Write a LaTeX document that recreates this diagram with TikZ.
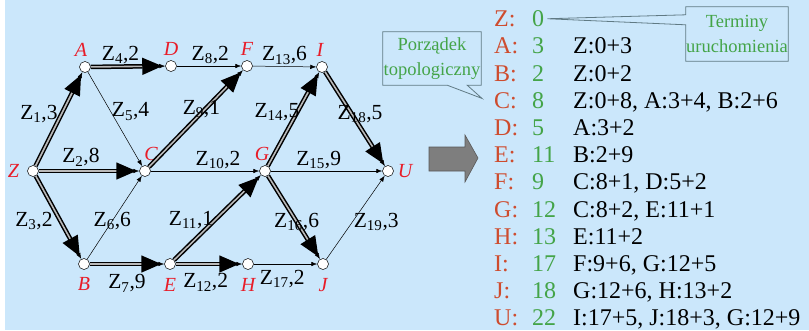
\documentclass[tikz,border=0pt]{standalone}
\usepackage{fontspec}
\setmainfont{Liberation Serif}
\usetikzlibrary{positioning,arrows.meta,backgrounds}

\definecolor{bgblue}{RGB}{203,231,251}
\definecolor{labred}{RGB}{232,28,40}
\definecolor{keyred}{RGB}{206,76,46}
\definecolor{keygreen}{RGB}{68,164,72}
\definecolor{calloutline}{RGB}{96,122,132}
\definecolor{arrowgray}{RGB}{126,126,126}

\newcommand{\zlab}[2]{Z\textsubscript{#1},#2}

\begin{document}
\begin{tikzpicture}[
  x=1pt, y=-1pt,
  vtx/.style={circle, draw, fill=white, inner sep=0pt, minimum size=11pt, line width=0.5pt},
  vlab/.style={text=labred, font=\fontsize{20}{20}\selectfont\itshape, inner sep=1pt},
  elab/.style={font=\fontsize{21.5}{21.5}\selectfont, inner sep=1pt},
  ar/.style={-{Latex[length=6pt,width=4.5pt]}, line width=0.5pt},
  crit/.style={-{Triangle[length=20pt,width=17pt]}, line width=1.5pt, double=gray!55, double distance=1.6pt, shorten >=3pt},
  klet/.style={anchor=base west, inner sep=0pt, text=keyred, font=\fontsize{24}{24}\selectfont},
  ktime/.style={klet, text=keygreen},
  kform/.style={klet, text=black},
  note/.style={align=center, text=keygreen, font=\fontsize{18.5}{25}\selectfont, inner sep=0pt},
  callout/.style={draw=calloutline, line width=0.8pt},
]
% --- background ---
\begin{scope}[on background layer]
\fill[bgblue] (5,0) rectangle (809,330);
\end{scope}
\useasboundingbox (0,0) rectangle (809,330);

% --- network ---
\node[vtx, label={[vlab, label distance=7pt]left:Z}]               (Z) at (33,171) {};
\node[vtx, label={[vlab, label distance=4pt, xshift=-4pt]above:A}] (A) at (85,67)  {};
\node[vtx, label={[vlab, label distance=4pt]above:D}]              (D) at (171,66) {};
\node[vtx, label={[vlab, label distance=4pt]above:F}]              (F) at (247,66) {};
\node[vtx, label={[vlab, label distance=4pt, xshift=-2pt]above:I}] (I) at (322,67) {};
\node[vtx, label={[vlab, label distance=3pt, xshift=6pt]above:C}]  (C) at (145,171) {};
\node[vtx, label={[vlab, label distance=3pt, xshift=-3pt]above:G}] (G) at (265,171) {};
\node[vtx, label={[vlab, label distance=3pt]right:U}]              (U) at (388,171) {};
\node[vtx, label={[vlab, label distance=6pt]below:B}]              (B) at (84,264)  {};
\node[vtx, label={[vlab, label distance=7pt]below:E}]              (E) at (170,264) {};
\node[vtx, label={[vlab, label distance=7pt]below:H}]              (H) at (248,264) {};
\node[vtx, label={[vlab, label distance=7pt]below:J}]              (J) at (323,264) {};

% thin edges (also under the thick ones)
\foreach \a/\b in {Z/A, Z/C, Z/B, A/D, C/F, G/I, I/U, G/J, B/E, E/G, E/H}
  \draw[ar] (\a) -- (\b);
\draw[ar] (D) -- node[elab, above=1pt, pos=0.52] (l8)  {\zlab{8}{2}}  (F);
\draw[ar] (F) -- node[elab, above=1pt, pos=0.5]  (l13) {\zlab{13}{6}} (I);
\draw[ar] (A) -- node[elab, right=0pt, pos=0.42] (l5)  {\zlab{5}{4}}  (C);
\draw[ar] (B) -- node[elab, pos=0.46]            (l6)  {\zlab{6}{6}}  (C);
\draw[ar] (C) -- node[elab, above=1pt, pos=0.62] (l10) {\zlab{10}{2}} (G);
\draw[ar] (G) -- node[elab, above=1pt, pos=0.43] (l15) {\zlab{15}{9}} (U);
\draw[ar] (H) -- node[elab, below=5pt, pos=0.45] (l17) {\zlab{17}{2}} (J);
\draw[ar] (J) -- node[elab, right=0pt, pos=0.45] (l19) {\zlab{19}{3}} (U);

% thick edges
\draw[crit] (Z) -- node[elab, left=2pt, pos=0.55]  (l1)  {\zlab{1}{3}}  (A);
\draw[crit] (Z) -- node[elab, above=3pt, pos=0.42] (l2)  {\zlab{2}{8}}  (C);
\draw[crit] (Z) -- node[elab, left=6pt, pos=0.54]  (l3)  {\zlab{3}{2}}  (B);
\draw[crit] (A) -- node[elab, above=1pt, pos=0.4]  (l4)  {\zlab{4}{2}}  (D);
\draw[crit] (C) -- node[elab, xshift=-4pt, pos=0.6] (l9) {\zlab{9}{1}}  (F);
\draw[crit] (G) -- node[elab, left=-4pt, pos=0.57] (l14) {\zlab{14}{5}} (I);
\draw[crit] (I) -- node[elab, xshift=8pt, pos=0.45] (l18) {\zlab{18}{5}} (U);
\draw[crit] (G) -- node[elab, pos=0.55]            (l16) {\zlab{16}{6}} (J);
\draw[crit] (B) -- node[elab, below=9pt, pos=0.5]  (l7)  {\zlab{7}{9}}  (E);
\draw[crit] (E) -- node[elab, left=0pt, pos=0.47]  (l11) {\zlab{11}{1}} (G);
\draw[crit] (E) -- node[elab, below=8pt, pos=0.45] (l12) {\zlab{12}{2}} (H);

% --- big gray arrow ---
\draw[fill=arrowgray, draw=black!65, line width=0.6pt]
  (429,147) -- (465,147) -- (465,135) -- (478,158) -- (465,182) -- (465,171) -- (429,171) -- cycle;

% --- start times ---
\foreach \v/\t/\f [count=\i from 0] in {
    Z/0/{}, A/3/{Z:0+3}, B/2/{Z:0+2}, C/8/{Z:0+8, A:3+4, B:2+6},
    D/5/{A:3+2}, E/11/{B:2+9}, F/9/{C:8+1, D:5+2}, G/12/{C:8+2, E:11+1},
    H/13/{E:11+2}, I/17/{F:9+6, G:12+5}, J/18/{G:12+6, H:13+2},
    U/22/{I:17+5, J:18+3, G:12+9}}
{
  \node[klet]  (r\v) at (494, 26.6+27.2*\i) {\v:};
  \node[ktime] (t\v) at (532, 26.6+27.2*\i) {\t};
  \node[kform] (f\v) at (573, 26.6+27.2*\i) {\f};
}

% --- callouts ---
\node[note, minimum width=98pt, minimum height=53pt] (topo) at (432,58.5) {Porządek\\topologiczny};
\draw[callout] (topo.north west) -- (topo.north east) -- (topo.south east)
  -- ([xshift=-14pt]topo.south east) -- ([xshift=-12pt, yshift=2pt]rC.west)
  -- ([xshift=-34pt]topo.south east) -- (topo.south west) -- cycle;
\node[note, minimum width=102pt, minimum height=54pt] (term) at (737,34) {Terminy\\uruchomienia};
\draw[callout] (term.north west) -- (term.north east) -- (term.south east) -- (term.south west)
  -- ([yshift=-18pt]term.north west) -- ([xshift=3pt]tZ.east)
  -- ([yshift=-8pt]term.north west) -- cycle;
\end{tikzpicture}
\end{document}
